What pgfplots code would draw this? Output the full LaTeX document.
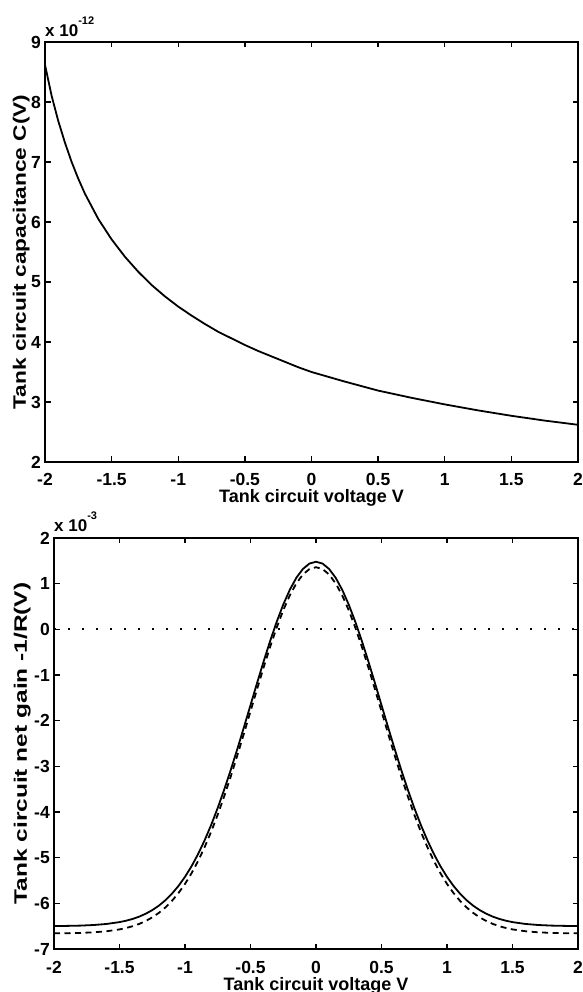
\documentclass[border=0pt]{standalone}
\usepackage{fontspec}
\setmainfont{Liberation Sans}
\usepackage{pgfplots}
\pgfplotsset{compat=1.18}

\pgfplotsset{
  mlab/.style={
    scale only axis, enlargelimits=false, clip mode=individual,
    axis line style={line width=1.8pt},
    every tick/.style={black, line width=1.4pt},
    major tick length=5.5pt, tick align=inside,
    xmin=-2, xmax=2,
    xtick={-2,-1.5,...,2},
    xticklabels={-2,-1.5,-1,-0.5,0,0.5,1,1.5,2},
    tick label style={font=\fontsize{17.5}{18}\selectfont\bfseries, inner sep=0pt},
    xticklabel style={anchor=base, yshift=-24pt},
    yticklabel style={anchor=east, xshift=-4pt},
    label style={font=\fontsize{18}{20}\selectfont\bfseries, inner sep=0pt},
    xlabel style={at={(axis description cs:0.5,0)}, anchor=base, yshift=-41pt},
  },
}
\tikzset{
  curve/.style={black, line width=1.8pt},
  expo/.style={anchor=base west, inner sep=0pt, font=\fontsize{17}{18}\selectfont\bfseries},
}

\begin{document}
\begin{tikzpicture}
\useasboundingbox (0,0) rectangle (582pt,992pt);

% capacitance C(V), values in units of 1e-12
\begin{axis}[mlab,
  at={(45pt,530pt)}, anchor=south west, width=533pt, height=420pt,
  ymin=2, ymax=9, ytick={2,3,...,9}, yticklabels={2,3,4,5,6,7,8,9},
  xlabel={Tank circuit voltage V},
  ylabel={\scalebox{1.26}[1]{Tank circuit capacitance C(V)}},
  ylabel style={at={(axis description cs:-0.036,0.5)}, anchor=base},
]
\addplot[curve] coordinates {
  (-2.0,8.62) (-1.95,8.10) (-1.9,7.68) (-1.85,7.32) (-1.8,7.00) (-1.75,6.72)
  (-1.7,6.47) (-1.6,6.05) (-1.5,5.71) (-1.4,5.42) (-1.3,5.17) (-1.2,4.95)
  (-1.1,4.76) (-1.0,4.59) (-0.9,4.44) (-0.8,4.30) (-0.7,4.17) (-0.6,4.06)
  (-0.5,3.95) (-0.4,3.85) (-0.3,3.76) (-0.2,3.67) (-0.1,3.58) (0,3.50)
  (0.25,3.34) (0.5,3.19) (0.75,3.07) (1.0,2.96) (1.25,2.86) (1.5,2.77)
  (1.75,2.69) (2.0,2.62)};
\node[expo, yshift=5.5pt] at (axis description cs:0,1)
  {x 10\raisebox{11.5pt}{\fontsize{11}{12}\selectfont\bfseries -12}};
\end{axis}

% net gain -1/R(V), values in units of 1e-3
\begin{axis}[mlab,
  at={(54pt,43pt)}, anchor=south west, width=524pt, height=411pt,
  ymin=-7, ymax=2, ytick={-7,-6,...,2},
  yticklabels={-7,-6,-5,-4,-3,-2,-1,0,1,2},
  xlabel={Tank circuit voltage V},
  ylabel={\scalebox{1.36}[1]{Tank circuit net gain -1/R(V)}},
  ylabel style={at={(axis description cs:-0.052,0.5)}, anchor=base},
]
\addplot[black, line width=2pt, dash pattern=on 2pt off 12pt] coordinates {(-2,0) (2,0)};
\addplot[curve] coordinates {
  (-2.0,-6.497) (-1.9,-6.494) (-1.8,-6.488) (-1.7,-6.475) (-1.6,-6.452)
  (-1.5,-6.411) (-1.45,-6.381) (-1.4,-6.342) (-1.35,-6.292) (-1.3,-6.228)
  (-1.25,-6.149) (-1.2,-6.052) (-1.15,-5.933) (-1.1,-5.790) (-1.05,-5.620)
  (-1.0,-5.420) (-0.95,-5.188) (-0.9,-4.921) (-0.85,-4.619) (-0.8,-4.281)
  (-0.75,-3.909) (-0.7,-3.505) (-0.65,-3.072) (-0.6,-2.616) (-0.55,-2.142)
  (-0.5,-1.660) (-0.45,-1.177) (-0.4,-0.705) (-0.35,-0.254) (-0.3,0.165)
  (-0.25,0.542) (-0.2,0.866) (-0.15,1.129) (-0.1,1.322) (-0.05,1.440)
  (0,1.480)
  (0.05,1.440) (0.1,1.322) (0.15,1.129) (0.2,0.866) (0.25,0.542)
  (0.3,0.165) (0.35,-0.254) (0.4,-0.705) (0.45,-1.177) (0.5,-1.660)
  (0.55,-2.142) (0.6,-2.616) (0.65,-3.072) (0.7,-3.505) (0.75,-3.909)
  (0.8,-4.281) (0.85,-4.619) (0.9,-4.921) (0.95,-5.188) (1.0,-5.420)
  (1.05,-5.620) (1.1,-5.790) (1.15,-5.933) (1.2,-6.052) (1.25,-6.149)
  (1.3,-6.228) (1.35,-6.292) (1.4,-6.342) (1.45,-6.381) (1.5,-6.411)
  (1.6,-6.452) (1.7,-6.475) (1.8,-6.488) (1.9,-6.494) (2.0,-6.497)};
\addplot[curve, dash pattern=on 6pt off 4.5pt] coordinates {
  (-2.0,-6.657) (-1.9,-6.654) (-1.8,-6.648) (-1.7,-6.635) (-1.6,-6.612)
  (-1.5,-6.571) (-1.45,-6.540) (-1.4,-6.501) (-1.35,-6.451) (-1.3,-6.387)
  (-1.25,-6.308) (-1.2,-6.210) (-1.15,-6.091) (-1.1,-5.947) (-1.05,-5.776)
  (-1.0,-5.575) (-0.95,-5.341) (-0.9,-5.073) (-0.85,-4.769) (-0.8,-4.430)
  (-0.75,-4.056) (-0.7,-3.650) (-0.65,-3.215) (-0.6,-2.756) (-0.55,-2.280)
  (-0.5,-1.796) (-0.45,-1.311) (-0.4,-0.836) (-0.35,-0.383) (-0.3,0.039)
  (-0.25,0.418) (-0.2,0.743) (-0.15,1.007) (-0.1,1.201) (-0.05,1.320)
  (0,1.360)
  (0.05,1.320) (0.1,1.201) (0.15,1.007) (0.2,0.743) (0.25,0.418)
  (0.3,0.039) (0.35,-0.383) (0.4,-0.836) (0.45,-1.311) (0.5,-1.796)
  (0.55,-2.280) (0.6,-2.756) (0.65,-3.215) (0.7,-3.650) (0.75,-4.056)
  (0.8,-4.430) (0.85,-4.769) (0.9,-5.073) (0.95,-5.341) (1.0,-5.575)
  (1.05,-5.776) (1.1,-5.947) (1.15,-6.091) (1.2,-6.210) (1.25,-6.308)
  (1.3,-6.387) (1.35,-6.451) (1.4,-6.501) (1.45,-6.540) (1.5,-6.571)
  (1.6,-6.612) (1.7,-6.635) (1.8,-6.648) (1.9,-6.654) (2.0,-6.657)};
\node[expo, yshift=6pt] at (axis description cs:0,1)
  {x 10\raisebox{12pt}{\fontsize{11}{12}\selectfont\bfseries -3}};
\end{axis}
\end{tikzpicture}
\end{document}
